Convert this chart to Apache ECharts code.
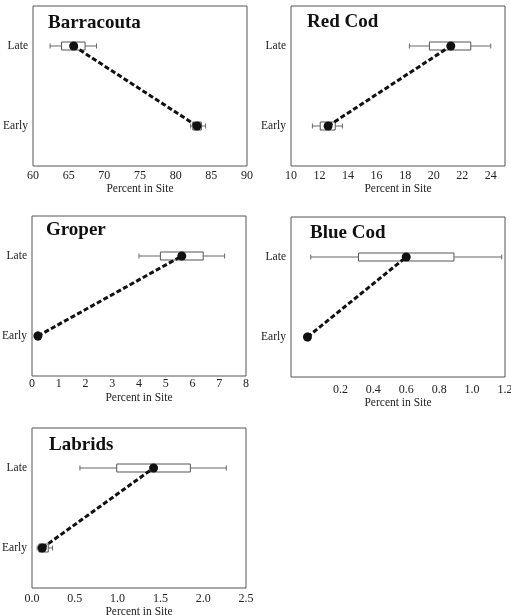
<!DOCTYPE html>
<html>
<head>
<meta charset="utf-8">
<script src="https://cdn.jsdelivr.net/npm/echarts@6/dist/echarts.min.js"></script>
<style>
  html, body { margin: 0; padding: 0; background: #fff; }
  #chart { width: 511px; height: 615px; }
</style>
</head>
<body>
<div id="chart"></div>
<script>
// categories (bottom to top)
const periods = ['Early', 'Late'];
const species = ['Barracouta', 'Red Cod', 'Groper', 'Blue Cod', 'Labrids'];

// box data per period: [whisker low, Q1, Q3, whisker high]
const barracoutaBox = [[82.1, 82.4, 83.6, 84.2], [62.4, 64.0, 67.3, 68.9]];
const redCodBox = [[11.5, 12.05, 13.1, 13.6], [18.3, 19.7, 22.6, 24.0]];
const groperBox = [[0.15, 0.18, 0.27, 0.3], [4.0, 4.8, 6.4, 7.2]];
const blueCodBox = [[0.0, 0.0, 0.01, 0.01], [0.02, 0.31, 0.89, 1.18]];
const labridsBox = [[0.06, 0.08, 0.19, 0.24], [0.56, 0.99, 1.85, 2.27]];

// mean percent in site [Early, Late]
const barracoutaMean = [83.0, 65.7];
const redCodMean = [12.6, 21.2];
const groperMean = [0.22, 5.6];
const blueCodMean = [0.0, 0.6];
const labridsMean = [0.12, 1.42];

const boxes = [barracoutaBox, redCodBox, groperBox, blueCodBox, labridsBox];
const means = [barracoutaMean, redCodMean, groperMean, blueCodMean, labridsMean];

const font = 'Liberation Serif';

// panel layout
const panels = [
  { left: 33, top: 6, titleX: 48, titleY: 25, min: 60, max: 90, interval: 5, margin: 4, nameGap: 16 },
  { left: 291, top: 6, titleX: 307, titleY: 24, min: 10, max: 25, interval: 2, margin: 4, nameGap: 16 },
  { left: 32, top: 216, titleX: 46, titleY: 232, min: 0, max: 8, interval: 1, margin: 2, nameGap: 16 },
  { left: 291, top: 217, titleX: 310, titleY: 235, min: -0.1, max: 1.2, interval: 0.1, margin: 7, nameGap: 17 },
  { left: 32, top: 428, titleX: 49, titleY: 447, min: 0, max: 2.5, interval: 0.5, margin: 5, nameGap: 17 }
];

const labelFormatters = [
  v => String(v),
  v => (v % 2 === 0 ? String(v) : ''),
  v => String(v),
  v => {
    const k = Math.round(v * 10);
    return (k > 0 && k % 2 === 0) ? (k / 10).toFixed(1) : '';
  },
  v => v.toFixed(1)
];

function renderBox(params, api) {
  const cat = api.value(0);
  const lo = api.coord([api.value(1), cat]);
  const q1 = api.coord([api.value(2), cat]);
  const q3 = api.coord([api.value(3), cat]);
  const hi = api.coord([api.value(4), cat]);
  const h = 8, c = 2.5;
  const wStyle = { stroke: '#666', lineWidth: 1 };
  return {
    type: 'group',
    children: [
      { type: 'line', shape: { x1: lo[0], y1: lo[1], x2: q1[0], y2: q1[1] }, style: wStyle },
      { type: 'line', shape: { x1: q3[0], y1: q3[1], x2: hi[0], y2: hi[1] }, style: wStyle },
      { type: 'line', shape: { x1: lo[0], y1: lo[1] - c, x2: lo[0], y2: lo[1] + c }, style: wStyle },
      { type: 'line', shape: { x1: hi[0], y1: hi[1] - c, x2: hi[0], y2: hi[1] + c }, style: wStyle },
      {
        type: 'rect',
        shape: { x: q1[0], y: q1[1] - h / 2, width: q3[0] - q1[0], height: h },
        style: { fill: '#fff', stroke: '#555', lineWidth: 1 }
      }
    ]
  };
}

const grid = [], xAxis = [], yAxis = [], series = [], graphic = [];

panels.forEach((p, i) => {
  grid.push({
    left: p.left, top: p.top, width: 214, height: 160,
    outerBoundsMode: 'none', containLabel: false,
    show: true, borderColor: '#555', borderWidth: 1, backgroundColor: '#fff'
  });
  xAxis.push({
    gridIndex: i, type: 'value',
    min: p.min, max: p.max, interval: p.interval,
    name: 'Percent in Site', nameLocation: 'middle', nameGap: p.nameGap,
    nameTextStyle: { fontFamily: font, fontSize: 11.5, color: '#222' },
    axisLine: { show: false }, axisTick: { show: false }, splitLine: { show: false },
    axisLabel: {
      margin: p.margin, fontFamily: font, fontSize: 12, color: '#222',
      formatter: labelFormatters[i], showMinLabel: true, showMaxLabel: true
    }
  });
  yAxis.push({
    gridIndex: i, type: 'category', data: periods, boundaryGap: true,
    axisLine: { show: false }, axisTick: { show: false }, splitLine: { show: false },
    axisLabel: { margin: 5, fontFamily: font, fontSize: 11.5, color: '#222' }
  });
  series.push({
    type: 'custom', xAxisIndex: i, yAxisIndex: i,
    renderItem: renderBox,
    encode: { x: [1, 2, 3, 4], y: 0 },
    data: boxes[i].map((b, k) => [k].concat(b)),
    z: 2
  });
  series.push({
    type: 'line', xAxisIndex: i, yAxisIndex: i,
    data: means[i].map((m, k) => [m, k]),
    symbol: 'circle', symbolSize: 9,
    itemStyle: { color: '#111' },
    lineStyle: { color: '#111', width: 3, type: [5, 2.5] },
    z: 3
  });
  graphic.push({
    type: 'text', left: p.titleX, top: p.titleY - 11,
    style: { text: species[i], font: 'bold 19px "Liberation Serif"', fill: '#111' },
    z: 10
  });
});

const chart = echarts.init(document.getElementById('chart'));
chart.setOption({
  backgroundColor: '#fff',
  animation: false,
  grid, xAxis, yAxis, series, graphic
});
</script>
</body>
</html>
